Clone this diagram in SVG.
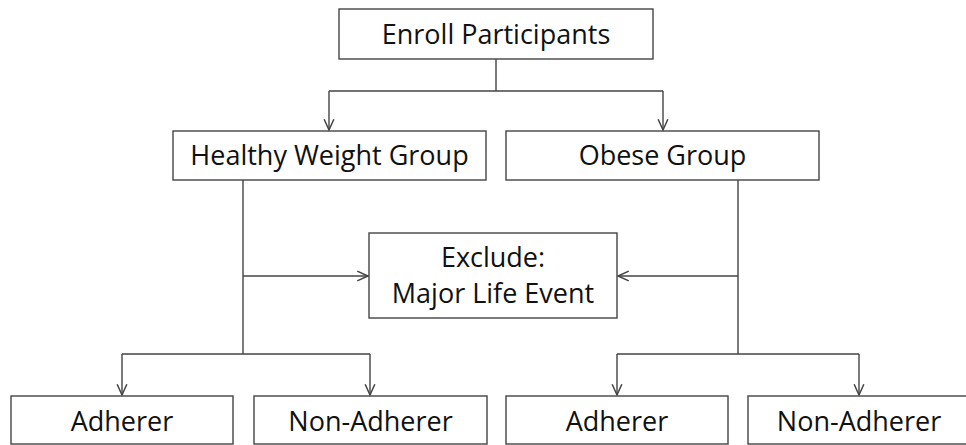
<svg xmlns="http://www.w3.org/2000/svg" width="966" height="445" viewBox="0 0 966 445">
<style>
.box{fill:#fff;stroke:#444;stroke-width:1.4}
.lbl{font-family:"Open Sans","Liberation Sans",sans-serif;font-size:27px;fill:#111;text-anchor:middle}
.con{fill:none;stroke:#444;stroke-width:1.4}
</style>
<defs>
<marker id="arr" markerUnits="userSpaceOnUse" markerWidth="14" markerHeight="14" viewBox="-11 -6 13 12" refX="0" refY="0" orient="auto">
<path d="M-10,-4.5 L0,0 L-10,4.5" fill="none" stroke="#444" stroke-width="1.4"/>
</marker>
</defs>
<rect width="966" height="445" fill="#fff"/>
<g id="connectors">
<path class="con" d="M496,59 V91 M329,91 H663"/>
<path class="con" d="M329,91 V130" marker-end="url(#arr)"/>
<path class="con" d="M663,91 V130" marker-end="url(#arr)"/>
<path class="con" d="M243,180 V354 M122,354 H370"/>
<path class="con" d="M243,276 H368" marker-end="url(#arr)"/>
<path class="con" d="M122,354 V395" marker-end="url(#arr)"/>
<path class="con" d="M370,354 V395" marker-end="url(#arr)"/>
<path class="con" d="M738,180 V354 M617,354 H859"/>
<path class="con" d="M738,276 H618" marker-end="url(#arr)"/>
<path class="con" d="M617,354 V395" marker-end="url(#arr)"/>
<path class="con" d="M859,354 V395" marker-end="url(#arr)"/>
</g>
<g id="enroll"><rect class="box" x="339" y="9" width="314" height="50"/><text class="lbl" x="496" y="44">Enroll Participants</text></g>
<g id="healthy"><rect class="box" x="173" y="131" width="313" height="49"/><text class="lbl" x="329.5" y="165">Healthy Weight Group</text></g>
<g id="obese"><rect class="box" x="506" y="131" width="313" height="49"/><text class="lbl" x="662.5" y="165">Obese Group</text></g>
<g id="exclude"><rect class="box" x="369" y="233" width="248" height="85"/><text class="lbl" x="493" y="267">Exclude:</text><text class="lbl" x="493" y="303">Major Life Event</text></g>
<g id="adherer-healthy"><rect class="box" x="11" y="396" width="222" height="48"/><text class="lbl" x="122" y="431">Adherer</text></g>
<g id="nonadherer-healthy"><rect class="box" x="254" y="396" width="233" height="48"/><text class="lbl" x="370.5" y="431">Non-Adherer</text></g>
<g id="adherer-obese"><rect class="box" x="506" y="396" width="222" height="48"/><text class="lbl" x="617" y="431">Adherer</text></g>
<g id="nonadherer-obese"><rect class="box" x="748" y="396" width="222" height="48"/><text class="lbl" x="859" y="431">Non-Adherer</text></g>
</svg>
